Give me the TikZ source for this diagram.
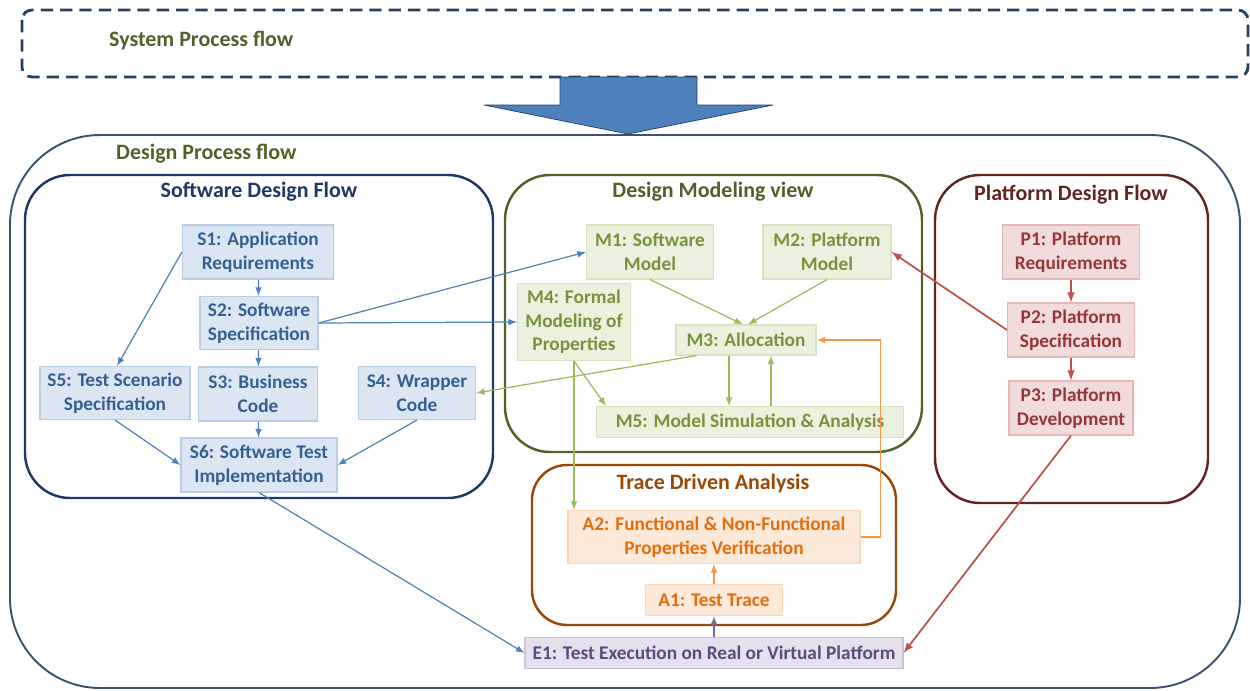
\documentclass[tikz,border=0pt]{standalone}
\usepackage{fontspec}
\setmainfont{Carlito}
\usetikzlibrary{arrows}
\usetikzlibrary{calc}
\definecolor{sysnavy}{HTML}{254061}
\definecolor{olive}{HTML}{4F6228}
\definecolor{swline}{HTML}{1F3864}
\definecolor{pfline}{HTML}{632523}
\definecolor{trline}{HTML}{984807}
\definecolor{palette1}{HTML}{4F81BD}
\definecolor{palette2}{HTML}{9BBB59}
\definecolor{palette3}{HTML}{F79646}
\definecolor{palette4}{HTML}{C0504D}
\definecolor{palette5}{HTML}{8064A2}
\definecolor{fill1}{HTML}{DCE6F2}
\definecolor{fill2}{HTML}{EBF1DE}
\definecolor{fill3}{HTML}{FDE9D9}
\definecolor{fill4}{HTML}{F2DCDB}
\definecolor{fill5}{HTML}{E5E0EC}
\definecolor{text1}{HTML}{376092}
\definecolor{text2}{HTML}{77933C}
\definecolor{text3}{HTML}{E46C0A}
\definecolor{text4}{HTML}{953735}
\definecolor{text5}{HTML}{604A7B}
\tikzset{>=latex}

\begin{document}
\begin{tikzpicture}[x = 0.02cm, y = -0.02cm,
	font = \fontsize{11}{13.5}\selectfont\bfseries,
	wh/.style 2 args = {minimum width = #1*0.02cm, minimum height = #2*0.02cm},
	box/.style = {draw, align = center, inner sep = 1pt, line width = 0.6pt},
	swbox/.style = {box, fill = fill1, draw = palette1!40, text = text1},
	mbox/.style = {box, fill = fill2, draw = palette2!40, text = text2},
	abox/.style = {box, fill = fill3, draw = palette3!40, text = text3},
	pbox/.style = {box, fill = fill4, draw = palette4!40, text = text4},
	ebox/.style = {box, fill = fill5, draw = palette5!40, text = text5},
	title/.style = {font = \fontsize{12.5}{15}\selectfont\bfseries},
	sw/.style = {->, palette1, line width = 0.7pt},
	md/.style = {->, palette2, line width = 0.7pt},
	tr/.style = {->, palette3, line width = 0.7pt},
	pf/.style = {->, palette4, line width = 1pt},
	ex/.style = {->, palette5, line width = 0.7pt}]
\useasboundingbox (0,0) rectangle (1250,690);

% outer flows
\draw[sysnavy, line width = 1.6pt, dash pattern = on 7pt off 4pt, rounded corners = 0.2cm]
	(22,10) rectangle (1248,77);
\node[title, olive, anchor = west] (sysl) at (103,41) {System Process flow};
\draw[sysnavy!90, line width = 1.1pt, rounded corners = 1.8cm] (10,135) rectangle (1240,688);
\node[title, olive, anchor = west] (desl) at (110,154) {Design Process flow};

\draw[sysnavy, fill = palette1] (560,77) -- (697,77) -- (697,105) -- (773,105)
	-- (628,134) -- (484,105) -- (560,105) -- cycle;

% sub flows
\foreach \xa/\ya/\xb/\yb/\c/\r in {25/175/493/498/swline/0.9, 505/175/922/452/olive/0.9,
	935/175/1208/503/pfline/0.9, 532/465/896/625/trline/0.7}
	\draw[\c, line width = 1.4pt, rounded corners = \r cm] (\xa,\yb) rectangle (\xb,\ya);

\node[title, swline] (swl) at (259,192) {Software Design Flow};
\node[title, olive] (mdl) at (713,192) {Design Modeling view};
\node[title, pfline] (pfl) at (1071,195) {Platform Design Flow};
\node[title, trline] (trl) at (713,484) {Trace Driven Analysis};

% software
\node[swbox, wh = {151}{54}] (S1) at (258,252) {S1: Application\\Requirements};
\node[swbox, wh = {118}{53}] (S2) at (259,323) {S2: Software\\Specification};
\node[swbox, wh = {150}{53}] (S5) at (115,393) {S5: Test Scenario\\Specification};
\node[swbox, wh = {119}{54}] (S3) at (258,394) {S3: Business\\Code};
\node[swbox, wh = {117}{53}] (S4) at (417,393) {S4: Wrapper\\Code};
\node[swbox, wh = {156}{54}] (S6) at (259,465) {S6: Software Test\\Implementation};

% modeling
\node[mbox, wh = {127}{54}] (M1) at (650,252) {M1: Software\\Model};
\node[mbox, wh = {128}{54}] (M2) at (827,252) {M2: Platform\\Model};
\node[mbox, wh = {113}{77}] (M4) at (574,322) {M4: Formal\\Modeling of\\Properties};
\node[mbox, wh = {140}{30}] (M3) at (746,340) {M3: Allocation};
\node[mbox, wh = {307}{31}] (M5) at (750,422) {M5: Model Simulation \& Analysis};

% platform
\node[pbox, wh = {137}{54}] (P1) at (1071,252) {P1: Platform\\Requirements};
\node[pbox, wh = {127}{54}] (P2) at (1071,330) {P2: Platform\\Specification};
\node[pbox, wh = {124}{54}] (P3) at (1071,408) {P3: Platform\\Development};

% trace
\node[abox, wh = {292}{53}] (A2) at (714,537) {A2: Functional \& Non-Functional\\Properties Verification};
\node[abox, wh = {137}{31}] (A1) at (714,600) {A1: Test Trace};
\node[ebox, wh = {378}{31}] (E1) at (714,653) {E1: Test Execution on Real or Virtual Platform};

\draw[sw] (S1) -- (S2);
\draw[sw] (S2) -- (S3);
\draw[sw] (S3) -- (S6);
\draw[sw] (S1.west) -- ([xshift = 0.04cm]S5.north);
\draw[sw] (S5.south) -- (S6.west);
\draw[sw] (S4.south) -- (S6.east);
\draw[sw] (S2.east) -- (M1.west);
\draw[sw] (S2.east) -- (M4.west);
\draw[sw] (S6.south) -- (E1.west);

\draw[md] (M1.south) -- ([xshift = -0.06cm]M3.north);
\draw[md] (M2.south) -- ([xshift = 0.04cm]M3.north);
\draw[md] ($(M3.south west)!0.15!(M3.south east)$) -- (S4.east);
\draw[md] (M4.south) -- ([xshift = 0.2cm]M5.north west);
\draw[md] (M4.south) -- (M4.south |- A2.north);
\draw[md] ([xshift = -0.34cm]M3.south) -- ([xshift = -0.34cm]M3.south |- M5.north);
\draw[md] ([xshift = 0.5cm]M3.south |- M5.north) -- ([xshift = 0.5cm]M3.south);

\draw[tr] (A1) -- (A2);
\draw[tr] (A2.east) -- ++(20,0) |- (M3.east);

\draw[pf] (P1) -- (P2);
\draw[pf] (P2) -- (P3);
\draw[pf] (P2.west) -- (M2.east);
\draw[pf] (P3.south) -- (E1.east);

\draw[ex] (E1) -- (A1);

\end{tikzpicture}
\end{document}
